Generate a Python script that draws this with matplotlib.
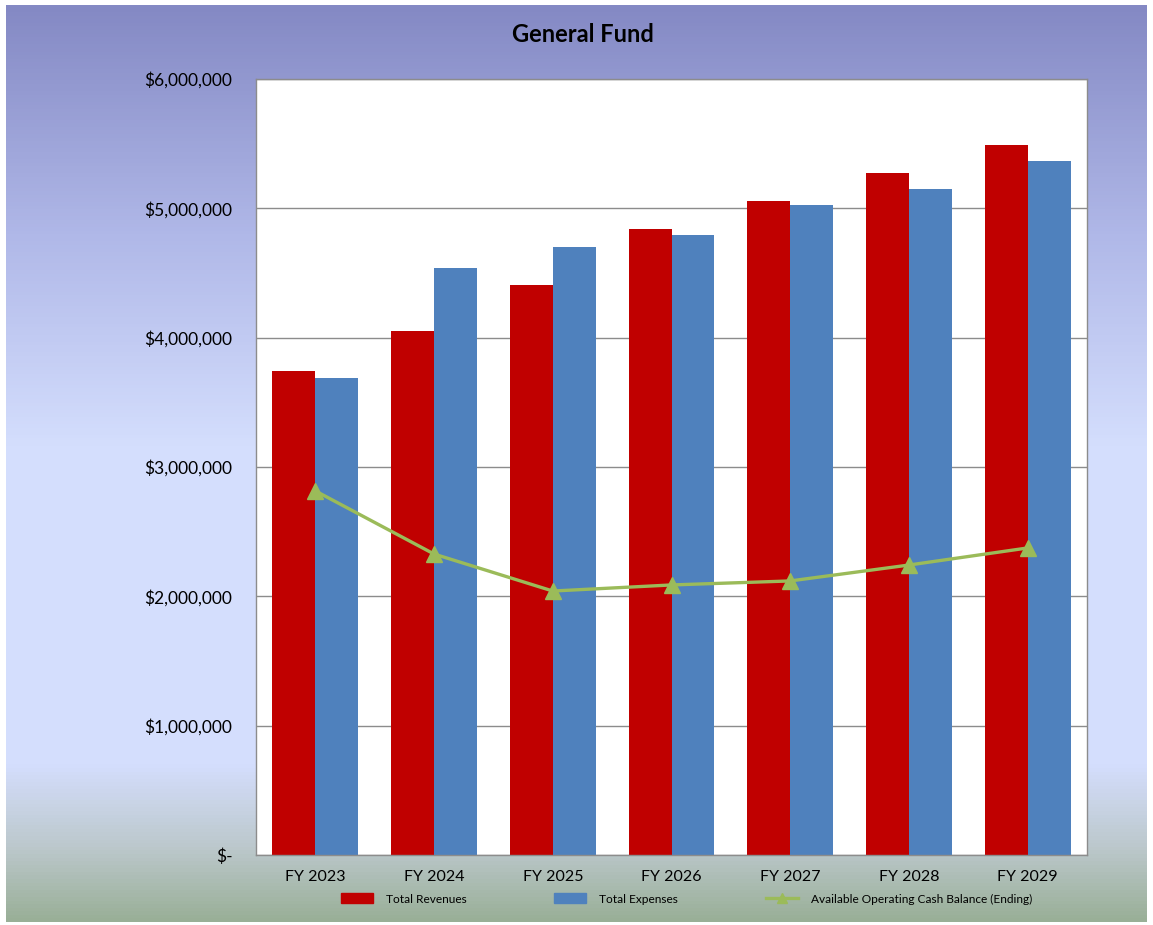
import numpy as np
import matplotlib.pyplot as plt
from matplotlib.colors import LinearSegmentedColormap
from matplotlib.ticker import FuncFormatter
from matplotlib.patches import Patch
from matplotlib.lines import Line2D

plt.rcParams['font.family'] = ['Lato', 'DejaVu Sans']

years = ['FY 2023', 'FY 2024', 'FY 2025', 'FY 2026', 'FY 2027', 'FY 2028', 'FY 2029']
revenues = [3742000, 4050000, 4407000, 4840000, 5057000, 5273000, 5490000]
expenses = [3688000, 4539000, 4701000, 4794000, 5026000, 5150000, 5366000]
cash_balance = [2815000, 2327000, 2041000, 2088000, 2119000, 2242000, 2374000]

W, H = 1153, 925
fig = plt.figure(figsize=(W / 100, H / 100), dpi=100)
fig.patch.set_facecolor('white')

# gradient background
bg = fig.add_axes([6 / W, 3 / H, 1141 / W, 917 / H], zorder=-5)
stops = [(0.0, '#99AF97'), (0.08, '#BCC8CC'), (0.17, '#D4DEFD'),
         (0.52, '#D4DEFD'), (0.75, '#B0B8E8'), (1.0, '#8489C4')]
cmap = LinearSegmentedColormap.from_list('bg', stops)
grad = np.linspace(0, 1, 256).reshape(-1, 1)
bg.imshow(grad, aspect='auto', cmap=cmap, origin='lower', extent=[0, 1, 0, 1])
bg.set_axis_off()

ax = fig.add_axes([256 / W, 1 - 855 / H, 831 / W, 776 / H])
ax.set_facecolor('white')

x = np.arange(len(years))
bw = 0.362
ax.bar(x - bw / 2, revenues, bw, color='#C00000', zorder=2)
ax.bar(x + bw / 2, expenses, bw, color='#4F81BD', zorder=2)
ax.plot(x, cash_balance, color='#9BBB59', lw=2.4, marker='^', markersize=11, zorder=3)

ax.set_xlim(-0.5, len(years) - 0.5)
ax.set_ylim(0, 6000000)
ax.set_yticks(np.arange(0, 6000001, 1000000))
ax.yaxis.set_major_formatter(FuncFormatter(lambda v, p: '$-' if v == 0 else '${:,.0f}'.format(v)))
ax.set_xticks(x)
ax.set_xticklabels(years)
ax.tick_params(axis='y', length=0, pad=17, labelsize=12.5, colors='black')
ax.tick_params(axis='x', length=0, pad=11, labelsize=11.5)
ax.grid(axis='y', color='#8c8c8c', lw=1, zorder=0)
for s in ax.spines.values():
    s.set_color('#8c8c8c')
    s.set_linewidth(1)

fig.text(583 / W, 1 - 34 / H, 'General Fund', ha='center', va='center',
         fontsize=17, fontweight='bold')

handles = [Patch(color='#C00000', label='Total Revenues'),
           Patch(color='#4F81BD', label='Total Expenses'),
           Line2D([], [], color='#9BBB59', lw=2.4, marker='^', markersize=7,
                  label='Available Operating Cash Balance (Ending)')]
fig.legend(handles=handles, loc='center left', bbox_to_anchor=(330 / W, 1 - 899 / H),
           ncol=3, frameon=False, fontsize=8.6, handlelength=2.7, handleheight=0.9,
           handletextpad=1.1, columnspacing=7.3)

fig.savefig('out.png', dpi=100)
